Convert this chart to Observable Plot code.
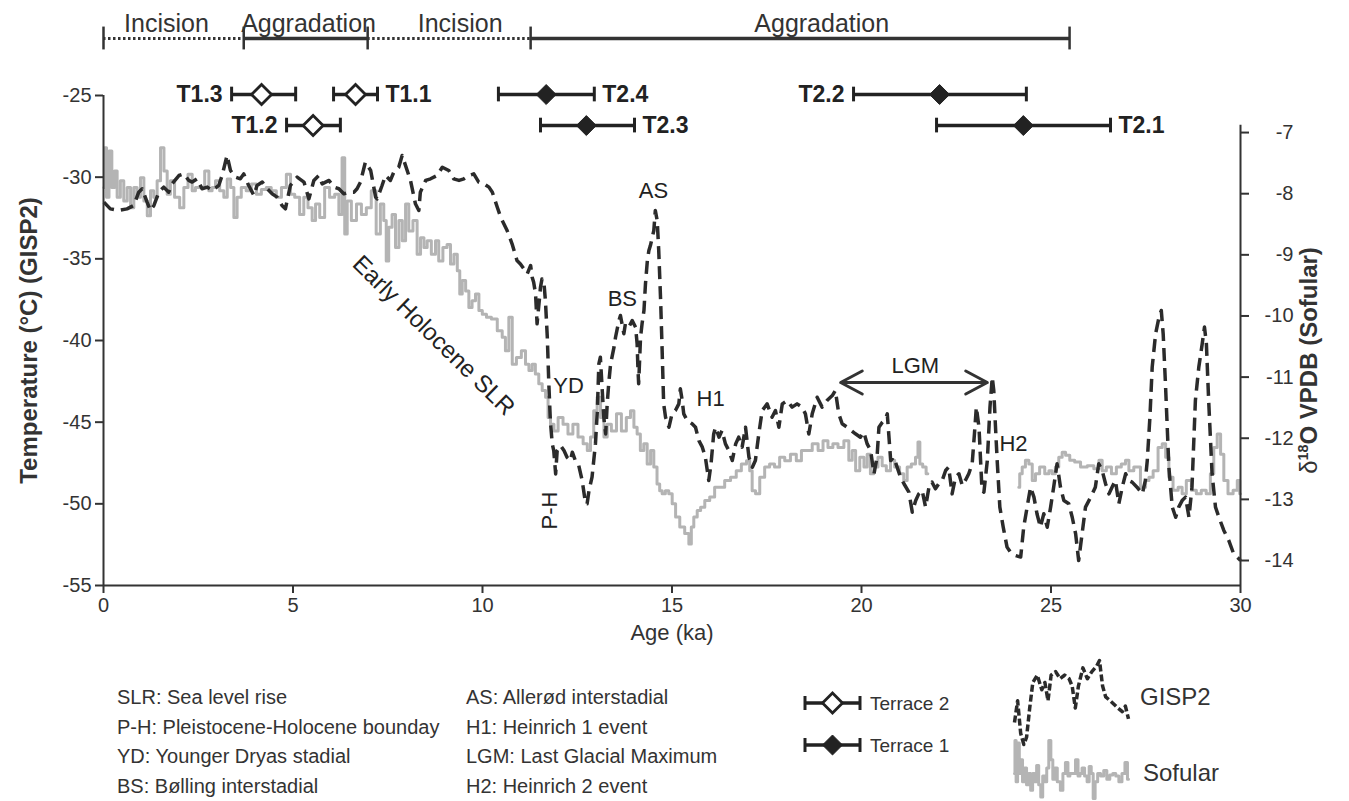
<!DOCTYPE html>
<html><head><meta charset="utf-8">
<script src="https://cdn.jsdelivr.net/npm/d3@7"></script>
<script src="https://cdn.jsdelivr.net/npm/@observablehq/plot@0.6"></script>
<style>
body{margin:0;background:#fff;font-family:"Liberation Sans",Arial,sans-serif;color:#333}
#wrap{position:relative;width:1349px;height:801px;overflow:hidden;background:#fff}
.abbr{position:absolute;font-size:20px;line-height:29.5px;white-space:nowrap;color:#333}
.lg{position:absolute;white-space:nowrap;color:#333}
</style></head><body><div id="wrap"></div>
<script>
// ---------- DATA ----------
// GISP2 temperature (°C) vs age (ka)
const gispAge = [0.01,0.18,0.40,0.62,0.80,0.93,1.02,1.15,1.24,1.33,1.46,1.59,1.72,1.81,1.99,2.12,2.25,2.34,2.47,2.60,2.74,2.87,3.04,3.13,3.26,3.35,3.48,3.61,3.70,3.83,3.97,4.05,4.19,4.32,4.45,4.58,4.71,4.80,4.93,5.11,5.29,5.42,5.55,5.68,5.77,5.95,6.08,6.21,6.34,6.47,6.61,6.69,6.78,6.91,7.05,7.18,7.22,7.35,7.44,7.57,7.66,7.79,7.88,7.97,8.10,8.23,8.32,8.36,8.50,8.63,8.80,8.94,9.11,9.24,9.38,9.51,9.64,9.77,9.90,10.04,10.17,10.26,10.39,
10.48,10.65,10.78,10.91,11.00,11.09,11.18,11.27,11.31,11.35,11.40,11.44,11.49,11.53,11.57,11.62,11.66,11.71,11.75,11.79,11.84,11.88,11.93,11.97,12.06,12.15,12.23,12.32,12.37,12.45,12.54,12.63,12.72,12.76,12.81,12.89,12.98,13.03,13.07,13.11,13.16,13.20,13.25,13.29,13.33,13.38,13.47,13.51,13.60,13.64,13.73,13.77,13.86,13.95,14.04,14.08,14.10,14.12,14.17,14.21,14.26,14.30,14.35,14.39,14.43,14.48,14.52,14.56,14.61,14.65,14.70,14.74,14.78,14.83,14.92,15.00,15.09,15.18,15.22,15.27,15.31,15.40,15.53,15.62,15.71,15.80,15.88,15.97,16.03,16.10,16.15,16.24,16.32,16.41,16.50,16.59,16.68,16.76,16.85,16.94,17.03,17.12,17.20,17.29,17.38,17.51,17.64,17.73,17.82,17.91,18.04,18.17,18.30,18.43,18.52,18.61,18.70,18.83,18.96,19.09,19.23,19.31,19.40,19.49,19.62,
19.84,19.97,20.06,20.15,20.24,20.33,20.41,20.46,20.55,20.63,20.68,20.77,20.85,20.94,21.03,21.12,21.25,21.34,21.43,21.51,21.60,21.69,21.78,21.86,21.95,22.04,22.13,22.22,22.30,22.39,22.48,22.57,22.66,22.74,22.83,22.92,22.98,23.03,23.10,23.18,23.23,23.32,23.39,23.45,23.49,23.54,23.58,23.65,23.74,23.84,23.93,24.06,24.20,24.28,24.37,24.46,24.55,24.63,24.72,24.81,24.90,24.99,25.07,25.16,25.25,25.34,25.47,25.56,25.65,25.73,25.82,25.91,26.00,26.09,26.17,26.26,26.35,26.44,26.53,26.61,26.70,26.79,26.88,26.97,27.05,27.14,27.27,27.41,27.49,27.54,27.61,27.67,27.76,27.85,27.91,27.96,28.02,28.11,28.20,28.29,28.37,28.46,28.55,28.64,28.72,28.81,28.90,28.99,29.05,29.10,29.16,29.25,29.34,29.43,29.56,29.69,29.82,29.96,30.00];
const gispTemp = [-31.53,-31.94,-32.04,-31.94,-31.73,-30.92,-30.71,-31.53,-32.04,-31.73,-30.92,-30.61,-30.92,-30.41,-29.90,-29.80,-30.20,-30.30,-30.10,-30.71,-30.61,-30.82,-30.51,-29.90,-28.67,-29.59,-30.00,-30.10,-29.80,-30.51,-31.12,-30.51,-30.30,-30.71,-31.02,-31.22,-31.73,-31.94,-30.51,-30.00,-30.30,-31.33,-30.20,-29.90,-30.41,-30.20,-30.61,-30.71,-31.02,-30.92,-30.92,-30.71,-30.30,-29.08,-29.59,-31.22,-31.33,-30.51,-29.90,-30.20,-29.69,-29.39,-28.67,-29.29,-30.20,-31.63,-32.04,-30.92,-30.20,-30.10,-29.90,-29.39,-29.59,-30.10,-30.20,-30.10,-29.90,-29.80,-30.30,-30.41,-30.61,-30.92,-31.84,
-32.45,-33.27,-34.08,-35.10,-35.31,-35.61,-35.92,-35.41,-36.12,-36.43,-37.15,-38.98,-37.76,-36.74,-36.23,-36.43,-37.55,-39.80,-42.65,-44.90,-46.33,-46.74,-48.17,-46.74,-46.43,-46.74,-47.15,-47.35,-46.84,-47.35,-47.66,-48.57,-50.00,-50.00,-49.19,-48.37,-46.33,-44.29,-41.43,-41.02,-43.06,-44.70,-45.72,-43.88,-42.65,-41.43,-40.41,-39.80,-38.78,-38.47,-39.59,-38.98,-39.19,-38.78,-39.19,-40.21,-41.63,-42.65,-39.80,-38.98,-38.17,-36.53,-35.10,-34.49,-34.19,-33.68,-33.27,-32.04,-32.66,-34.49,-37.55,-40.61,-43.88,-44.70,-45.31,-44.49,-44.29,-43.88,-42.96,-43.68,-44.49,-44.90,-45.10,-45.31,-46.13,-46.53,-47.15,-48.57,-47.55,-45.72,-45.31,-45.92,-45.51,-46.33,-46.74,-47.35,-46.33,-45.92,-46.53,-45.31,-47.15,-47.76,-47.35,-45.72,-44.29,-43.88,-44.70,-44.29,-45.31,-43.88,-43.68,-44.08,-43.88,-44.08,-44.49,-45.72,-44.49,-43.47,-44.08,-43.68,-43.37,-43.06,-44.49,-45.10,-45.31,
-45.71,-45.92,-45.61,-46.33,-46.73,-48.16,-47.14,-45.31,-45.00,-44.80,-44.49,-47.35,-47.14,-47.75,-48.37,-48.77,-49.28,-50.51,-49.80,-49.39,-49.18,-50.20,-48.98,-48.67,-49.08,-48.77,-48.57,-47.96,-47.75,-49.39,-48.37,-48.16,-48.88,-48.57,-48.16,-47.55,-45.71,-44.08,-45.31,-49.18,-49.28,-47.35,-44.08,-42.24,-43.06,-45.51,-47.35,-50.20,-51.43,-52.65,-52.96,-53.16,-53.26,-51.43,-50.20,-48.98,-49.59,-50.61,-51.43,-50.61,-51.43,-50.20,-48.98,-47.55,-48.98,-49.80,-50.00,-50.82,-51.84,-53.47,-51.84,-50.20,-49.80,-49.39,-48.98,-47.55,-47.96,-48.77,-49.39,-48.98,-48.57,-50.00,-48.98,-48.16,-48.57,-48.67,-48.98,-49.39,-48.57,-47.35,-44.69,-41.63,-39.59,-38.57,-38.16,-39.59,-42.65,-47.75,-50.20,-50.82,-50.20,-49.80,-49.59,-50.82,-48.98,-43.67,-41.63,-40.20,-39.18,-40.20,-43.67,-48.16,-50.20,-50.82,-51.63,-52.24,-53.06,-53.37,-53.47];

// Sofular δ18O (‰ VPDB) vs age (ka); null = no record
const sofAge = [0.01,0.05,0.11,0.18,0.26,0.32,0.40,0.49,0.58,0.67,0.76,0.84,0.93,1.02,1.11,1.20,1.28,1.37,1.46,1.55,1.64,1.72,1.81,1.94,2.08,2.16,2.30,2.38,2.47,2.60,2.74,2.82,2.91,3.00,3.13,3.22,3.31,3.40,3.48,3.57,3.70,3.83,3.97,4.10,4.23,4.36,4.49,4.63,4.76,4.89,4.98,5.11,5.24,5.33,5.46,5.55,5.64,5.77,5.90,6.03,6.17,6.25,6.34,6.39,6.47,6.61,6.74,6.87,7.00,7.13,7.26,7.35,7.44,7.48,7.57,7.66,7.75,7.84,7.93,8.01,8.10,8.23,8.32,8.41,8.50,8.58,8.72,8.80,8.89,9.02,9.11,9.20,9.29,9.38,9.42,9.51,9.60,9.68,9.77,9.86,9.95,10.04,10.17,10.30,
10.48,10.56,10.65,10.74,10.83,10.96,11.09,11.18,11.27,11.35,11.44,11.53,11.62,11.71,11.75,11.84,11.93,12.06,12.19,12.32,12.45,12.59,12.72,12.81,12.89,12.98,13.07,13.16,13.25,13.33,13.47,13.60,13.73,13.86,13.95,14.04,14.12,14.21,14.30,14.39,14.48,14.56,14.65,14.70,14.78,14.87,14.96,15.05,15.14,15.27,15.40,15.49,15.53,15.62,15.71,15.80,15.93,16.06,16.19,16.32,16.46,16.63,16.76,16.90,17.03,17.07,17.16,17.25,17.38,17.51,17.64,17.77,17.91,18.04,18.21,18.35,18.48,18.61,18.79,18.92,19.05,19.18,19.31,19.45,19.62,
19.71,19.80,19.89,20.02,20.11,20.19,20.28,20.37,20.50,20.59,20.72,20.81,20.94,21.07,21.16,21.25,21.38,21.47,21.51,21.57,21.66,21.75,22.90,
24.15,24.20,24.28,24.37,24.46,24.55,24.63,24.77,24.90,24.99,25.07,25.16,25.25,25.34,25.43,25.56,25.69,25.87,26.04,26.22,26.31,26.39,26.53,26.66,26.79,26.92,27.01,27.10,27.27,27.45,27.54,27.63,27.76,27.89,27.98,28.07,28.15,28.29,28.42,28.50,28.64,28.77,28.90,29.03,29.16,29.25,29.34,29.43,29.52,29.60,29.74,29.87,29.96,30.00];
const sofD18O = [-7.90,-7.25,-8.06,-7.30,-7.90,-7.63,-8.06,-7.79,-8.12,-7.90,-8.23,-7.90,-8.06,-7.74,-8.12,-8.36,-7.95,-8.06,-7.79,-7.25,-7.63,-8.01,-7.79,-8.06,-8.23,-7.90,-7.68,-7.95,-7.90,-7.90,-7.63,-7.95,-7.90,-7.79,-7.95,-8.06,-7.76,-7.90,-8.39,-8.06,-7.90,-7.95,-7.84,-8.01,-7.93,-7.90,-7.95,-8.06,-7.90,-7.68,-8.01,-8.06,-8.34,-8.06,-8.23,-8.44,-8.17,-8.39,-7.90,-8.06,-8.01,-8.34,-7.41,-8.66,-8.12,-8.44,-8.17,-8.34,-8.23,-7.95,-8.66,-8.17,-8.44,-9.10,-8.55,-8.34,-8.88,-8.44,-8.77,-8.17,-8.61,-8.44,-8.99,-8.72,-8.88,-8.77,-8.99,-8.77,-9.10,-8.88,-8.83,-9.15,-8.99,-9.26,-9.64,-9.42,-9.59,-9.86,-9.75,-9.64,-9.91,-9.97,-10.02,-10.05,
-10.24,-10.35,-10.57,-10.02,-10.79,-10.68,-10.57,-10.79,-10.89,-10.79,-10.95,-11.11,-11.22,-11.33,-11.66,-11.77,-11.88,-11.66,-11.77,-11.93,-11.77,-11.98,-12.09,-12.20,-11.98,-11.55,-11.33,-11.66,-11.98,-11.77,-11.88,-11.60,-11.88,-11.66,-11.55,-11.82,-11.93,-12.20,-12.09,-12.42,-12.20,-12.47,-12.75,-12.86,-12.91,-12.86,-12.91,-13.07,-13.29,-13.45,-13.56,-13.73,-13.45,-13.29,-13.18,-13.13,-13.02,-12.96,-12.80,-12.80,-12.69,-12.64,-12.53,-12.42,-12.37,-12.53,-12.86,-12.91,-12.64,-12.47,-12.42,-12.47,-12.31,-12.37,-12.26,-12.37,-12.20,-12.20,-12.09,-12.20,-12.04,-12.15,-12.09,-12.15,-12.04,
-12.36,-12.20,-12.53,-12.31,-12.47,-12.26,-12.58,-12.47,-12.31,-12.45,-12.53,-12.36,-12.47,-12.58,-12.69,-12.47,-12.42,-12.31,-12.06,-12.42,-12.47,-12.58,null,
-12.80,-12.58,-12.47,-12.36,-12.42,-12.69,-12.58,-12.47,-12.58,-12.53,-12.58,-12.47,-12.31,-12.23,-12.28,-12.36,-12.39,-12.47,-12.45,-12.50,-12.36,-12.53,-12.47,-12.58,-12.47,-12.42,-12.36,-12.53,-12.47,-12.80,-12.69,-12.64,-12.53,-12.15,-12.09,-12.31,-12.64,-12.85,-12.80,-12.91,-12.69,-12.85,-12.91,-12.85,-12.91,-12.58,-12.15,-11.93,-12.26,-12.69,-12.91,-12.85,-12.69,-12.91];

// Terrace ages (ka) with ranges
const terraceLabel = ["T1.3","T1.1","T1.2","T2.4","T2.3","T2.2","T2.1"];
const terraceAge   = [4.17, 6.65, 5.53, 11.68, 12.74, 22.06, 24.27];
const terraceLo    = [3.38, 6.07, 4.83, 10.42, 11.53, 19.79, 21.98];
const terraceHi    = [5.07, 7.23, 6.25, 12.95, 14.01, 24.35, 26.57];
const terraceOpen  = [true, true, true, false, false, false, false];
const terraceRow   = [1, 1, 2, 1, 2, 1, 2];
const terraceSide  = ["left","right","left","right","right","left","right"];

// River phases
const phaseName  = ["Incision","Aggradation","Incision","Aggradation"];
const phaseStart = [0, 3.70, 6.97, 11.27];
const phaseEnd   = [3.70, 6.97, 11.27, 25.49];
const phaseLabelAge = [1.66, 5.41, 9.41, 18.95];

// Event annotations (age ka, GISP2 temperature units)
const noteText = ["AS","BS","YD","H1","LGM","H2"];
const noteAge  = [14.51, 13.69, 12.27, 16.02, 21.42, 24.01];
const noteTemp = [-30.82, -37.43, -42.76, -43.55, -41.53, -46.31];
const lgmFrom = 19.45, lgmTo = 23.32, lgmTemp = -42.57;

// Axis ticks
const xTicks = [0,5,10,15,20,25,30];
const leftTicks = [-25,-30,-35,-40,-45,-50,-55];
const rightTicks = [-7,-8,-9,-10,-11,-12,-13,-14];

const abbrevLeft  = ["SLR: Sea level rise","P-H: Pleistocene-Holocene bounday","YD: Younger Dryas stadial","BS: Bølling interstadial"];
const abbrevRight = ["AS: Allerød interstadial","H1: Heinrich 1 event","LGM: Last Glacial Maximum","H2: Heinrich 2 event"];

// ---------- BUILD ----------
const FONT = "Liberation Sans, Arial, sans-serif";
const INK = "#2b2b2b";
const GRAY = "#b4b4b4";
// map δ18O (right axis) onto the temperature scale (left axis)
const toT = d => (d == null ? NaN : -53.47 + 3.743 * (d + 14));
const fromT = t => Math.round((t + 53.47) / 3.743 - 14);

const gisp = gispAge.map((a, i) => ({age: a, t: gispTemp[i]}));
const sof = sofAge.map((a, i) => ({age: a, t: toT(sofD18O[i])}));
const terr = terraceLabel.map((l, i) => ({label: l, age: terraceAge[i], lo: terraceLo[i], hi: terraceHi[i], open: terraceOpen[i], row: terraceRow[i], side: terraceSide[i]}));
const phases = phaseName.map((n, i) => ({name: n, start: phaseStart[i], end: phaseEnd[i], lab: phaseLabelAge[i]}));
const bounds = Array.from(new Set([...phaseStart, ...phaseEnd]));
const notes = noteText.map((t, i) => ({text: t, age: noteAge[i], t: noteTemp[i]}));

const rowY = r => (r === 1 ? -24.94 : -26.84);
const phaseY = -21.51, phaseLabY = -20.62;

const svg = Plot.plot({
  width: 1349, height: 650,
  marginLeft: 103, marginRight: 109, marginTop: 95, marginBottom: 65,
  x: {domain: [0, 30]},
  y: {domain: [-55, -25]},
  style: {fontFamily: FONT, fontSize: "19px", color: "#333", background: "white", overflow: "visible"},
  marks: [
    Plot.line(sof, {x: "age", y: "t", stroke: GRAY, strokeWidth: 3, curve: "step"}),
    Plot.line(gisp, {x: "age", y: "t", stroke: INK, strokeWidth: 3.5, strokeDasharray: "13,7", strokeLinecap: "butt"}),
    // frame lines
    Plot.ruleX([0], {y1: -55, y2: -25, stroke: "#333", strokeWidth: 2}),
    Plot.ruleX([30], {y1: -55, y2: toT(-6.88), stroke: "#333", strokeWidth: 2}),
    Plot.ruleY([-55], {x1: 0, x2: 30, stroke: "#333", strokeWidth: 2}),
    Plot.axisX({ticks: xTicks, tickSize: 8, tickPadding: 4, tickFormat: d => String(d), label: null, strokeWidth: 2, fontSize: 20}),
    Plot.axisY({anchor: "left", ticks: leftTicks, tickSize: 8, tickPadding: 4, tickFormat: d => String(d), label: null, strokeWidth: 2, fontSize: 20}),
    Plot.axisY({anchor: "right", ticks: rightTicks.map(toT), tickSize: 8, tickPadding: 45, textAnchor: "end", tickFormat: t => String(fromT(t)), label: null, strokeWidth: 2, fontSize: 20}),
    // axis titles
    Plot.text(["Age (ka)"], {frameAnchor: "bottom", lineAnchor: "middle", dy: 47, fontSize: 22}),
    Plot.text(["Temperature (°C) (GISP2)"], {frameAnchor: "left", textAnchor: "middle", lineAnchor: "middle", dx: -74, rotate: -90, fontSize: 24, fontWeight: "bold"}),
    Plot.text(["δ18O VPDB (Sofular)"], {frameAnchor: "right", textAnchor: "middle", lineAnchor: "middle", dx: 69, dy: 20, rotate: -90, fontSize: 24, fontWeight: "bold"}),
    // phases
    Plot.ruleY(phases.filter(d => d.name === "Incision"), {x1: "start", x2: "end", y: () => phaseY, stroke: "#333", strokeWidth: 3, strokeDasharray: "2.5,2.5"}),
    Plot.ruleY(phases.filter(d => d.name === "Aggradation"), {x1: "start", x2: "end", y: () => phaseY, stroke: "#333", strokeWidth: 3.5}),
    Plot.ruleX(bounds, {x: d => d, y1: () => phaseY - 0.7, y2: () => phaseY + 0.7, stroke: "#333", strokeWidth: 2.5}),
    Plot.text(phases, {x: "lab", y: () => phaseLabY, text: "name", fontSize: 25, fill: "#333"}),
    // terraces
    Plot.ruleY(terr, {x1: "lo", x2: "hi", y: d => rowY(d.row), stroke: "#222", strokeWidth: 3.5}),
    Plot.ruleX(terr, {x: "lo", y1: d => rowY(d.row) - 0.45, y2: d => rowY(d.row) + 0.45, stroke: "#222", strokeWidth: 3}),
    Plot.ruleX(terr, {x: "hi", y1: d => rowY(d.row) - 0.45, y2: d => rowY(d.row) + 0.45, stroke: "#222", strokeWidth: 3}),
    Plot.dot(terr.filter(d => d.open), {x: "age", y: d => rowY(d.row), symbol: "diamond2", r: 9, fill: "white", stroke: "#222", strokeWidth: 2.8}),
    Plot.dot(terr.filter(d => !d.open), {x: "age", y: d => rowY(d.row), symbol: "diamond2", r: 9, fill: "#222", stroke: "#222", strokeWidth: 1}),
    Plot.text(terr.filter(d => d.side === "left"), {x: "lo", y: d => rowY(d.row), text: "label", textAnchor: "end", dx: -9, fontSize: 23, fontWeight: "bold", fill: "#222"}),
    Plot.text(terr.filter(d => d.side === "right"), {x: "hi", y: d => rowY(d.row), text: "label", textAnchor: "start", dx: 8, fontSize: 23, fontWeight: "bold", fill: "#222"}),
    // annotations
    Plot.text(notes, {x: "age", y: "t", text: "text", fontSize: 22, fill: "#222"}),
    Plot.text(["P-H"], {x: () => 11.79, y: () => -50.41, rotate: -90, fontSize: 22, fill: "#222"}),
    Plot.text(["Early Holocene SLR"], {x: () => 8.71, y: () => -39.7, rotate: 44.5, fontSize: 24, fill: "#222"}),
    Plot.arrow([0], {x1: () => (lgmFrom + lgmTo) / 2, x2: () => lgmFrom, y1: () => lgmTemp, y2: () => lgmTemp, stroke: "#333", strokeWidth: 3, headLength: 20, headAngle: 56}),
    Plot.arrow([0], {x1: () => (lgmFrom + lgmTo) / 2, x2: () => lgmTo, y1: () => lgmTemp, y2: () => lgmTemp, stroke: "#333", strokeWidth: 3, headLength: 20, headAngle: 56})
  ]
});

// superscript in right axis title
d3.select(svg).selectAll("text").filter(function(){ return this.textContent === "δ18O VPDB (Sofular)"; }).each(function(){
  const t = d3.select(this); t.text(null);
  t.append("tspan").attr("font-weight", "normal").text("δ");
  t.append("tspan").attr("font-size", "60%").attr("dy", "-0.65em").text("18");
  t.append("tspan").attr("dy", "0.4em").text("O VPDB (Sofular)");
});

const wrap = document.getElementById("wrap");
svg.style.position = "absolute"; svg.style.left = "0px"; svg.style.top = "0px";
wrap.appendChild(svg);

// abbreviation key
function addCol(lines, left){
  const div = document.createElement("div");
  div.className = "abbr"; div.style.left = left + "px"; div.style.top = "683px";
  div.innerHTML = lines.map(s => "<div>" + s + "</div>").join("");
  wrap.appendChild(div);
}
addCol(abbrevLeft, 117);
addCol(abbrevRight, 466);

// terrace legend (swatches)
const lsvg = d3.create("svg").attr("width", 190).attr("height", 90).style("position","absolute").style("left","795px").style("top","680px");
[["Terrace 2", true, 23], ["Terrace 1", false, 65]].forEach(([name, open, y]) => {
  lsvg.append("line").attr("x1",10).attr("x2",65).attr("y1",y).attr("y2",y).attr("stroke","#222").attr("stroke-width",3.5);
  [10,65].forEach(x => lsvg.append("line").attr("x1",x).attr("x2",x).attr("y1",y-7).attr("y2",y+7).attr("stroke","#222").attr("stroke-width",3));
  lsvg.append("path").attr("d", d3.symbol(d3.symbolDiamond2, Math.PI*81)()).attr("transform",`translate(37.5,${y})`)
    .attr("fill", open ? "white" : "#222").attr("stroke","#222").attr("stroke-width", open ? 2.8 : 1);
  lsvg.append("text").attr("x",75).attr("y",y).attr("dy","0.35em").attr("font-size",19).attr("font-family",FONT).attr("fill","#333").text(name);
});
wrap.appendChild(lsvg.node());

// series legend: snippets of the records themselves
const gSample = gisp.filter(d => d.age >= 16.85 && d.age <= 20.2);
const sSample = sof.filter(d => d.age >= 0 && d.age <= 5);
const g1 = Plot.plot({width: 122, height: 92, margin: 4, x: {axis: null}, y: {axis: null},
  style: {background: "transparent"},
  marks: [Plot.line(gSample, {x: "age", y: "t", stroke: INK, strokeWidth: 3.5, strokeDasharray: "7,3", strokeLinecap: "butt"})]});
g1.style.position = "absolute"; g1.style.left = "1010px"; g1.style.top = "656px";
wrap.appendChild(g1);
const s1 = Plot.plot({width: 122, height: 66, margin: 4, x: {axis: null}, y: {axis: null},
  style: {background: "transparent"},
  marks: [Plot.line(sSample, {x: "age", y: "t", stroke: GRAY, strokeWidth: 3, curve: "step"})]});
s1.style.position = "absolute"; s1.style.left = "1010px"; s1.style.top = "736px";
wrap.appendChild(s1);

function addLabel(txt, left, top, size){
  const d = document.createElement("div"); d.className = "lg";
  d.style.left = left + "px"; d.style.top = top + "px"; d.style.fontSize = size + "px"; d.textContent = txt;
  wrap.appendChild(d);
}
addLabel("GISP2", 1140, 683, 24);
addLabel("Sofular", 1143, 759, 24);
</script>
</body></html>
